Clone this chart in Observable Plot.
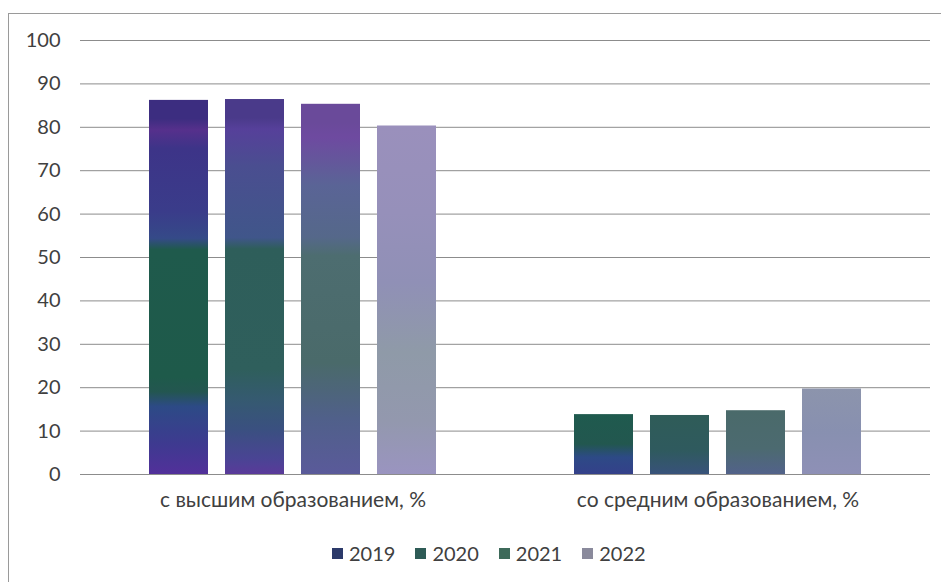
<!DOCTYPE html>
<html><head><meta charset="utf-8">
<script src="https://cdn.jsdelivr.net/npm/d3@7"></script>
<script src="https://cdn.jsdelivr.net/npm/@observablehq/plot@0.6"></script>
<style>
body{margin:0;background:#fff;font-family:Lato,sans-serif;color:#404040;}
#wrap{position:relative;width:941px;height:582px;overflow:hidden;background:#fff;}
#frame{position:absolute;left:8px;top:13px;width:960px;height:600px;border-left:1px solid #9a9a9a;border-top:1px solid #9a9a9a;pointer-events:none;}
#chart{position:absolute;left:0;top:0;}
#legend{position:absolute;left:332px;top:541px;display:flex;gap:20px;font-size:20px;line-height:24px;}
#legend .item{display:flex;align-items:center;}
#legend .sw{width:11px;height:11px;margin-right:6px;}
</style></head>
<body>
<div id="wrap"><div id="chart"></div><div id="legend"></div><div id="frame"></div></div>
<script>
const categories = ["с высшим образованием, %", "со средним образованием, %"];
const years = ["2019", "2020", "2021", "2022"];
const higher = [86.2, 86.4, 85.3, 80.3];
const secondary = [13.8, 13.6, 14.7, 19.7];
const yTicks = [0, 10, 20, 30, 40, 50, 60, 70, 80, 90, 100];
const legendColors = ["#2c3a6a", "#2e5b56", "#3d6a5a", "#8a8a9c"];
// scan colour cast of each bar, top to bottom [relative position, colour]
const castHigher = {
  "2019": [[0,"#3c2d80"],[0.05,"#3c2d80"],[0.08,"#56308c"],[0.13,"#3d3488"],[0.3,"#3a3c8a"],[0.37,"#354a88"],[0.4,"#1f5a4c"],[0.74,"#1e5a4a"],[0.78,"#235650"],[0.82,"#2d4a86"],[0.92,"#3e3a90"],[1,"#52309a"]],
  "2020": [[0,"#4a3a8a"],[0.05,"#4a3a8a"],[0.08,"#56409a"],[0.18,"#4a4e90"],[0.37,"#40568a"],[0.4,"#2e5e5a"],[0.72,"#2f5f5c"],[0.8,"#355a70"],[0.88,"#3a5080"],[0.96,"#4a4494"],[1,"#5a3a9a"]],
  "2021": [[0,"#6a4a9a"],[0.05,"#6a4a9a"],[0.09,"#6e4aa0"],[0.22,"#5a6496"],[0.36,"#55688a"],[0.41,"#4d6d70"],[0.7,"#4a6a6a"],[0.85,"#50608a"],[1,"#5a5a9a"]],
  "2022": [[0,"#9a90bc"],[0.25,"#9690ba"],[0.45,"#9090b6"],[0.65,"#8f9aa8"],[0.85,"#9398ae"],[1,"#9a94c0"]]
};
const castSecondary = {
  "2019": [[0,"#1f5a4e"],[0.5,"#22574f"],[0.72,"#2d4a86"],[1,"#34408a"]],
  "2020": [[0,"#2f5c58"],[0.6,"#2f5a5e"],[1,"#38527a"]],
  "2021": [[0,"#4a6a6a"],[0.6,"#4c6a70"],[1,"#52628a"]],
  "2022": [[0,"#8c94ac"],[0.5,"#8890b0"],[1,"#8e90b6"]]
};

const data = [];
years.forEach((y, i) => {
  data.push({category: categories[0], year: y, value: higher[i], key: "h" + y});
  data.push({category: categories[1], year: y, value: secondary[i], key: "s" + y});
});
const keys = data.map(d => d.key);

const chart = Plot.plot({
  width: 941,
  height: 530,
  marginLeft: 80,
  marginRight: 11,
  marginTop: 40,
  marginBottom: 56,
  style: {fontFamily: "Lato, sans-serif", fontSize: "20px", color: "#404040", background: "transparent"},
  fx: {domain: categories, padding: 0, label: null},
  x: {domain: years, paddingInner: 0.22, paddingOuter: 0.87, axis: null},
  y: {domain: [0, 100], label: null},
  color: {domain: keys, range: keys.map(k => `url(#grad${k})`)},
  marks: [
    Plot.gridY(yTicks, {stroke: "#8c8c8c", strokeOpacity: 1, strokeWidth: 1}),
    Plot.axisY(yTicks, {tickSize: 0, tickPadding: 20, label: null, fontSize: 20}),
    Plot.barY(data, {fx: "category", x: "year", y: "value", fill: "key"}),
    Plot.axisFx({anchor: "bottom", tickSize: 0, tickPadding: 18, label: null, fontSize: 21})
  ]
});

const svgNS = "http://www.w3.org/2000/svg";
const defs = document.createElementNS(svgNS, "defs");
function addGrad(id, stops) {
  const g = document.createElementNS(svgNS, "linearGradient");
  g.setAttribute("id", id);
  g.setAttribute("x1", 0); g.setAttribute("x2", 0);
  g.setAttribute("y1", 0); g.setAttribute("y2", 1);
  stops.forEach(([o, c]) => {
    const s = document.createElementNS(svgNS, "stop");
    s.setAttribute("offset", o);
    s.setAttribute("stop-color", c);
    g.appendChild(s);
  });
  defs.appendChild(g);
}
years.forEach(y => {
  addGrad("gradh" + y, castHigher[y]);
  addGrad("grads" + y, castSecondary[y]);
});
chart.insertBefore(defs, chart.firstChild);
document.getElementById("chart").appendChild(chart);

const legend = document.getElementById("legend");
years.forEach((y, i) => {
  const it = document.createElement("div");
  it.className = "item";
  it.innerHTML = `<span class="sw" style="background:${legendColors[i]}"></span><span>${y}</span>`;
  legend.appendChild(it);
});
</script>
</body></html>
